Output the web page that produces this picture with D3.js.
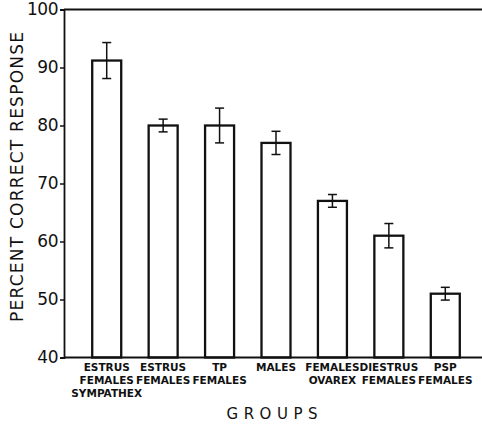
<!DOCTYPE html>
<html>
<head>
<meta charset="utf-8">
<script src="https://cdn.jsdelivr.net/npm/d3@7/dist/d3.min.js"></script>
<style>
  html, body { margin: 0; padding: 0; background: #fff; }
  svg { display: block; }
  text { font-family: "DejaVu Sans", sans-serif; fill: #111; }
</style>
</head>
<body>
<svg id="chart" width="482" height="424"></svg>
<script>
// ---- data ----
const groups = ["g1", "g2", "g3", "g4", "g5", "g6", "g7"];
const groupLabels = [
  ["ESTRUS", "FEMALES", "SYMPATHEX"],
  ["ESTRUS", "FEMALES"],
  ["TP", "FEMALES"],
  ["MALES"],
  ["FEMALES", "OVAREX"],
  ["DIESTRUS", "FEMALES"],
  ["PSP", "FEMALES"]
];
const meanValues = [91.2, 80, 80, 77, 67, 61, 51];
const errorValues = [3.1, 1.1, 3, 2, 1.1, 2.1, 1.1];
const yTicks = [40, 50, 60, 70, 80, 90, 100];
const yTitle = "PERCENT CORRECT RESPONSE";
const xTitle = "GROUPS";

// ---- layout ----
const svg = d3.select("#chart");
const axisX = 64, yTop = 9.5, yBottom = 357.5, rightEdge = 482;

const y = d3.scaleLinear().domain([40, 100]).range([yBottom, yTop]);
const x = d3.scaleBand().domain(groups).range([64, 488])
  .paddingInner(0.486).paddingOuter(0.5);

// bars
const data = groups.map((g, i) => ({ g, v: meanValues[i], e: errorValues[i], lab: groupLabels[i] }));

svg.append("g").selectAll("rect").data(data).join("rect")
  .attr("x", d => x(d.g))
  .attr("y", d => y(d.v))
  .attr("width", x.bandwidth())
  .attr("height", d => y(40) - y(d.v))
  .attr("fill", "#fff")
  .attr("stroke", "#111")
  .attr("stroke-width", 2.3);

// error bars
const eg = svg.append("g").attr("stroke", "#111").attr("stroke-width", 1.5);
data.forEach(d => {
  const cx = x(d.g) + x.bandwidth() / 2;
  eg.append("line").attr("x1", cx).attr("x2", cx).attr("y1", y(d.v + d.e)).attr("y2", y(d.v - d.e));
  eg.append("line").attr("x1", cx - 4.5).attr("x2", cx + 4.5).attr("y1", y(d.v + d.e)).attr("y2", y(d.v + d.e));
  eg.append("line").attr("x1", cx - 4.5).attr("x2", cx + 4.5).attr("y1", y(d.v - d.e)).attr("y2", y(d.v - d.e));
});

// frame lines (top and bottom)
svg.append("line").attr("x1", axisX).attr("x2", rightEdge).attr("y1", yTop).attr("y2", yTop)
  .attr("stroke", "#111").attr("stroke-width", 1.8);
svg.append("line").attr("x1", axisX).attr("x2", rightEdge).attr("y1", yBottom).attr("y2", yBottom)
  .attr("stroke", "#111").attr("stroke-width", 2);

// y axis
const yAxis = d3.axisLeft(y).tickValues(yTicks).tickSize(4).tickPadding(2).tickFormat(d3.format("d"));
const yg = svg.append("g").attr("transform", `translate(${axisX},0)`).call(yAxis);
yg.select(".domain").attr("stroke", "#111").attr("stroke-width", 1.8);
yg.selectAll(".tick line").attr("stroke", "#111").attr("stroke-width", 1.5);
yg.selectAll(".tick text").attr("font-size", 17).attr("fill", "#111")
  .style("font-family", "'DejaVu Sans', sans-serif").attr("letter-spacing", "-0.5");

// category labels
const lg = svg.append("g");
data.forEach(d => {
  const cx = x(d.g) + x.bandwidth() / 2;
  d.lab.forEach((t, j) => {
    lg.append("text").attr("x", cx).attr("y", 371 + j * 13)
      .attr("text-anchor", "middle").attr("font-size", 10.5)
      .attr("font-weight", 600).text(t);
  });
});

// axis titles
svg.append("text").attr("transform", "translate(23,177) rotate(-90)")
  .attr("text-anchor", "middle").attr("font-size", 17)
  .attr("textLength", 290).attr("lengthAdjust", "spacing").text(yTitle);
svg.append("text").attr("x", 272).attr("y", 419)
  .attr("text-anchor", "middle").attr("font-size", 15)
  .attr("textLength", 91).attr("lengthAdjust", "spacing").text(xTitle);
</script>
</body>
</html>
